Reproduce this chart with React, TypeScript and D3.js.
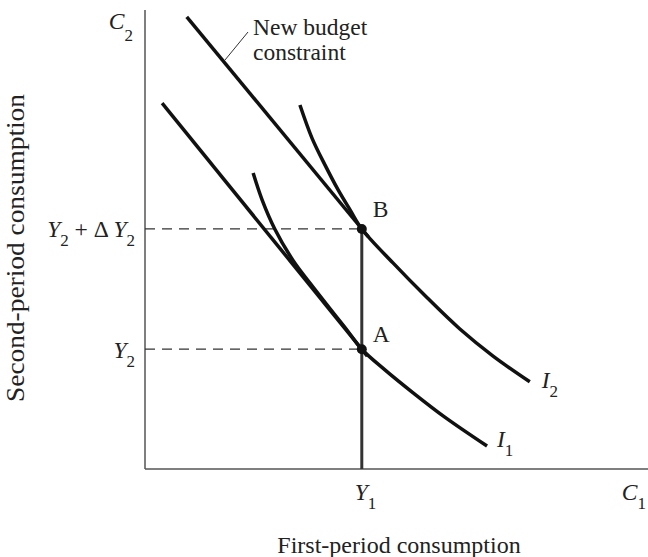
import React from 'react';
import * as d3 from 'd3';

// axis units: both axes run 0..100
const Y1 = 43.1;
const Y2 = 26.1;
const Y2_PLUS_DY2 = 52.3;

// budget constraints (endpoints)
const oldBudget: [number, number][] = [[3.4, 79.7], [44.2, 24.6]];
const newBudget: [number, number][] = [[8.3, 98.5], [44.4, 50.6]];

// indifference curves
const curveI1: [number, number][] = [
  [21.5, 64.5], [23.3, 58.6], [25.8, 52.3], [29.4, 45.5], [32.8, 40.5],
  [36.8, 34.9], [40.0, 30.5], [43.1, 26.1], [47.7, 21.6], [53.3, 16.6],
  [59.6, 11.3], [68.0, 5.0],
];
const curveI2: [number, number][] = [
  [30.8, 79.3], [33.2, 72.1], [35.8, 66.2], [38.4, 60.8], [40.8, 56.4],
  [43.1, 52.3], [49.3, 44.9], [56.1, 37.3], [62.6, 30.5], [69.2, 24.6],
  [76.5, 19.0],
];

const W = 648;
const H = 557;
const margin = { top: 10, right: 0, bottom: 88, left: 145 };
const FONT = '"Liberation Serif", "Times New Roman", serif';

export default function App() {
  const x = d3.scaleLinear().domain([0, 100]).range([margin.left, W - margin.right]);
  const y = d3.scaleLinear().domain([0, 100]).range([H - margin.bottom, margin.top]);

  const line = d3.line<[number, number]>().x(d => x(d[0])).y(d => y(d[1]));
  const smooth = d3.line<[number, number]>()
    .x(d => x(d[0]))
    .y(d => y(d[1]))
    .curve(d3.curveCatmullRom.alpha(0.5));

  const x0 = x(0);
  const y0 = y(0);
  const fs = 23.5;
  const sub = 17;
  const endI1 = curveI1[curveI1.length - 1];
  const endI2 = curveI2[curveI2.length - 1];

  return (
    <svg width={W} height={H} style={{ position: 'absolute', left: 0, top: 0, background: '#fff' }}
      fontFamily={FONT} fontSize={fs} fill="#222">
      {/* axes */}
      <line x1={x0} y1={margin.top} x2={x0} y2={y0} stroke="#555" strokeWidth={1.5} />
      <line x1={x0} y1={y0} x2={W} y2={y0} stroke="#555" strokeWidth={1.5} />

      {/* dashed guides */}
      {[Y2, Y2_PLUS_DY2].map(v => (
        <line key={v} x1={x0} y1={y(v)} x2={x(Y1)} y2={y(v)}
          stroke="#333" strokeWidth={1.3} strokeDasharray="10,7" />
      ))}

      {/* endowment shift */}
      <line x1={x(Y1)} y1={y(Y2_PLUS_DY2)} x2={x(Y1)} y2={y0} stroke="#333" strokeWidth={3} />

      {/* budget lines */}
      <path d={line(oldBudget) ?? ''} fill="none" stroke="#111" strokeWidth={3.5} />
      <path d={line(newBudget) ?? ''} fill="none" stroke="#111" strokeWidth={3.5} />

      {/* indifference curves */}
      <path d={smooth(curveI1) ?? ''} fill="none" stroke="#111" strokeWidth={3.5} />
      <path d={smooth(curveI2) ?? ''} fill="none" stroke="#111" strokeWidth={3.5} />

      {/* points */}
      <circle cx={x(Y1)} cy={y(Y2)} r={5} fill="#111" />
      <circle cx={x(Y1)} cy={y(Y2_PLUS_DY2)} r={5} fill="#111" />
      <text x={x(Y1) + 11} y={y(Y2) - 7}>A</text>
      <text x={x(Y1) + 11} y={y(Y2_PLUS_DY2) - 12}>B</text>

      {/* curve labels */}
      <text x={x(endI1[0]) + 10} y={y(endI1[1]) + 1}>
        <tspan fontStyle="italic">I</tspan><tspan dy={9} fontSize={sub}>1</tspan>
      </text>
      <text x={x(endI2[0]) + 12} y={y(endI2[1]) + 6}>
        <tspan fontStyle="italic">I</tspan><tspan dy={9} fontSize={sub}>2</tspan>
      </text>

      {/* budget label and leader */}
      <line x1={248} y1={32} x2={225} y2={60} stroke="#333" strokeWidth={1} />
      <text x={253} y={35}>New budget</text>
      <text x={253} y={60}>constraint</text>

      {/* axis end labels */}
      <text x={x0 - 12} y={29} textAnchor="end">
        <tspan fontStyle="italic">C</tspan><tspan dy={12} fontSize={sub}>2</tspan>
      </text>
      <text x={W - 2} y={y0 + 31} textAnchor="end">
        <tspan fontStyle="italic">C</tspan><tspan dy={9} fontSize={sub}>1</tspan>
      </text>

      {/* tick labels */}
      <text x={x(Y1) - 7} y={y0 + 31}>
        <tspan fontStyle="italic">Y</tspan><tspan dy={9} fontSize={sub}>1</tspan>
      </text>
      <text x={x0 - 10} y={y(Y2) + 9} textAnchor="end">
        <tspan fontStyle="italic">Y</tspan><tspan dy={9} fontSize={sub}>2</tspan>
      </text>
      <text x={x0 - 10} y={y(Y2_PLUS_DY2) + 8} textAnchor="end">
        <tspan fontStyle="italic">Y</tspan><tspan dy={9} fontSize={sub}>2</tspan>
        <tspan dy={-9}> + Δ </tspan>
        <tspan fontStyle="italic">Y</tspan><tspan dy={9} fontSize={sub}>2</tspan>
      </text>

      {/* axis titles */}
      <text x={399} y={553} textAnchor="middle" fontSize={24}>First-period consumption</text>
      <text transform={`translate(24, 248) rotate(-90)`} textAnchor="middle" fontSize={25}
        textLength={308} lengthAdjust="spacingAndGlyphs">Second-period consumption</text>
    </svg>
  );
}
